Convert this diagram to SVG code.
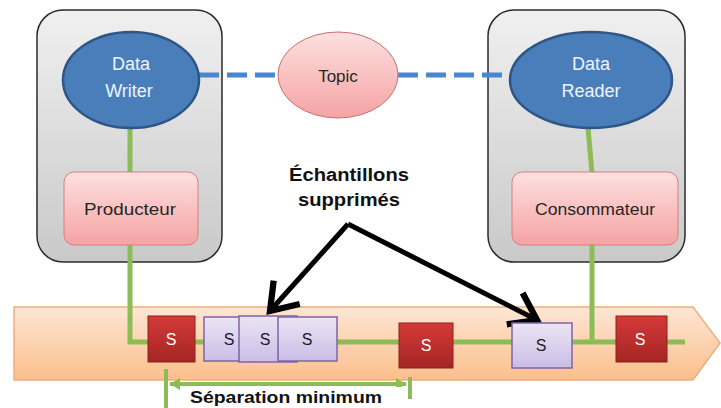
<svg xmlns="http://www.w3.org/2000/svg" width="721" height="408" viewBox="0 0 721 408">
<defs>
  <linearGradient id="gBox" x1="0" y1="0" x2="0" y2="1">
    <stop offset="0" stop-color="#f0f0f0"/>
    <stop offset="1" stop-color="#c9c9c9"/>
  </linearGradient>
  <linearGradient id="gPink" x1="0" y1="0" x2="0" y2="1">
    <stop offset="0" stop-color="#fde0e0"/>
    <stop offset="1" stop-color="#f5a3a3"/>
  </linearGradient>
  <linearGradient id="gRed" x1="0" y1="0" x2="0" y2="1">
    <stop offset="0" stop-color="#d43a38"/>
    <stop offset="1" stop-color="#a52523"/>
  </linearGradient>
  <linearGradient id="gLav" x1="0" y1="0" x2="0" y2="1">
    <stop offset="0" stop-color="#ebe5f5"/>
    <stop offset="1" stop-color="#cbbde6"/>
  </linearGradient>
  <linearGradient id="gOrange" x1="0" y1="0" x2="0" y2="1">
    <stop offset="0" stop-color="#fde6d4"/>
    <stop offset="1" stop-color="#fbbf8c"/>
  </linearGradient>
  <marker id="chev" markerUnits="userSpaceOnUse" markerWidth="50" markerHeight="50" refX="0" refY="0" orient="auto" overflow="visible" viewBox="-30 -20 40 40">
    <path d="M-20,-14 L0,0 L-20,14" fill="none" stroke="#000" stroke-width="5" stroke-linejoin="miter"/>
  </marker>
  <marker id="sepHead" markerUnits="userSpaceOnUse" markerWidth="20" markerHeight="20" refX="0" refY="0" orient="auto-start-reverse" overflow="visible" viewBox="-12 -10 20 20">
    <path d="M-10,-6 L0,0 L-10,6 Z" fill="#8dbb55"/>
  </marker>
  <style>
    .frame { fill: url(#gBox); stroke: #2b2b2b; stroke-width: 1.5; }
    .ell { fill: #4a7ebb; stroke: #2f5684; stroke-width: 2.5; }
    .pinkE { fill: url(#gPink); stroke: #c9706d; stroke-width: 1; }
    .pinkR { fill: url(#gPink); stroke: #d77e7b; stroke-width: 1; }
    .red { fill: url(#gRed); stroke: #8c2020; stroke-width: 1; }
    .lav { fill: url(#gLav); stroke: #7d64a6; stroke-width: 1.5; }
    .green { fill: none; stroke: #8dbb55; stroke-width: 5; }
    .dash { fill: none; stroke: #4a86d0; stroke-width: 5; stroke-dasharray: 20 8; }
    .lbl { font-family: "Liberation Sans", Arial, sans-serif; text-anchor: middle; }
    .white { fill: #eef4ff; font-size: 18px; }
    .dark { fill: #262626; font-size: 16px; }
    .sw { fill: #ffffff; font-size: 16px; }
    .sd { fill: #1a1a2a; font-size: 16px; }
    .bold { font-weight: bold; fill: #111; font-size: 18px; }
  </style>
</defs>

<!-- timeline band -->
<g id="timeline">
  <path d="M14,307 L693,307 L720,343 L693,380 L14,380 Z" fill="url(#gOrange)" stroke="#f2ad78" stroke-width="1.5"/>
</g>

<!-- frames -->
<g id="writer-frame"><rect class="frame" x="37" y="10" width="185" height="252" rx="26"/></g>
<g id="reader-frame"><rect class="frame" x="488" y="10" width="197" height="252" rx="26"/></g>

<!-- connectors -->
<g id="connectors">
  <line class="dash" x1="199" y1="75" x2="278" y2="75"/>
  <line class="dash" x1="398" y1="75" x2="510" y2="75"/>
  <line class="green" x1="130" y1="128" x2="130" y2="173"/>
  <line class="green" x1="588" y1="128" x2="592" y2="173"/>
  <polyline class="green" points="130,245 130,342 685,342"/>
  <line class="green" x1="592" y1="245" x2="592" y2="342"/>
  <line x1="348" y1="224" x2="270" y2="311" stroke="#000" stroke-width="5" marker-end="url(#chev)"/>
  <line x1="348" y1="224" x2="537" y2="320" stroke="#000" stroke-width="5" marker-end="url(#chev)"/>
  <line x1="166" y1="369" x2="166" y2="408" stroke="#8dbb55" stroke-width="4"/>
  <line x1="410" y1="377" x2="410" y2="399" stroke="#8dbb55" stroke-width="4"/>
  <line x1="170" y1="384" x2="406" y2="384" stroke="#8dbb55" stroke-width="4" marker-start="url(#sepHead)" marker-end="url(#sepHead)"/>
</g>

<!-- nodes -->
<g id="data-writer">
  <ellipse class="ell" cx="131" cy="80" rx="68" ry="48"/>
  <text class="lbl white" x="131" y="70">Data</text>
  <text class="lbl white" x="129" y="97">Writer</text>
</g>
<g id="topic">
  <ellipse class="pinkE" cx="338" cy="75" rx="60" ry="43"/>
  <text class="lbl dark" x="338" y="82" style="font-size:17px">Topic</text>
</g>
<g id="data-reader">
  <ellipse class="ell" cx="591" cy="80" rx="81" ry="48"/>
  <text class="lbl white" x="591" y="70">Data</text>
  <text class="lbl white" x="591" y="97">Reader</text>
</g>
<g id="producteur">
  <rect class="pinkR" x="64" y="172" width="134" height="73" rx="10"/>
  <text class="lbl dark" x="130" y="215" textLength="92" lengthAdjust="spacingAndGlyphs">Producteur</text>
</g>
<g id="consommateur">
  <rect class="pinkR" x="512" y="172" width="166" height="73" rx="10"/>
  <text class="lbl dark" x="595" y="215" textLength="120" lengthAdjust="spacingAndGlyphs">Consommateur</text>
</g>

<g id="s-red-1">
  <rect class="red" x="148" y="316" width="47" height="46"/>
  <text class="lbl sw" x="171" y="345">S</text>
</g>
<g id="s-lav-1">
  <rect class="lav" x="204" y="317" width="58" height="44"/>
  <text class="lbl sd" x="229" y="345">S</text>
</g>
<g id="s-lav-2">
  <rect class="lav" x="239" y="316" width="58" height="46"/>
  <text class="lbl sd" x="265" y="345">S</text>
</g>
<g id="s-lav-3">
  <rect class="lav" x="278" y="317" width="59" height="44"/>
  <text class="lbl sd" x="307" y="345">S</text>
</g>
<g id="s-red-2">
  <rect class="red" x="399" y="323" width="54" height="45"/>
  <text class="lbl sw" x="426" y="351">S</text>
</g>
<g id="s-lav-4">
  <rect class="lav" x="512" y="323" width="60" height="45"/>
  <text class="lbl sd" x="541" y="351">S</text>
</g>
<g id="s-red-3">
  <rect class="red" x="616" y="316" width="51" height="46"/>
  <text class="lbl sw" x="640" y="345">S</text>
</g>

<g id="label-supprimes">
  <text class="lbl bold" x="349" y="181" textLength="120" lengthAdjust="spacingAndGlyphs">Échantillons</text>
  <text class="lbl bold" x="349" y="206" textLength="102" lengthAdjust="spacingAndGlyphs">supprimés</text>
</g>
<g id="label-separation">
  <rect x="185" y="387" width="219" height="21" fill="#ffffff"/>
  <text class="lbl bold" x="286" y="403" style="font-size:17px" textLength="192" lengthAdjust="spacingAndGlyphs">Séparation minimum</text>
</g>
</svg>
